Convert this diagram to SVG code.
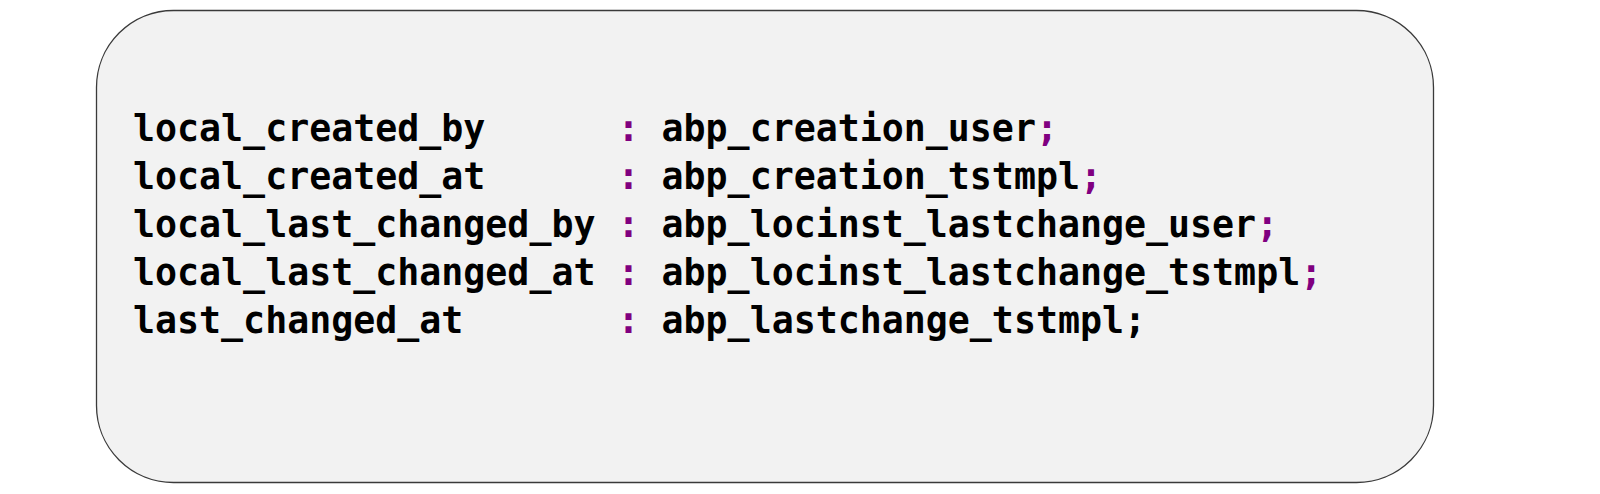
<svg xmlns="http://www.w3.org/2000/svg" width="1600" height="494" viewBox="0 0 1600 494">
<style>
.box{fill:#F2F2F2;stroke:#3A3A3A;stroke-width:1.3}
.code{font-family:"DejaVu Sans Mono","Liberation Mono",monospace;font-weight:bold;font-size:36.6px;fill:#000000;white-space:pre}
.p{fill:#800080}
</style>
<rect width="1600" height="494" fill="#FFFFFF"/>
<g id="panel">
<rect class="box" x="96.5" y="10.5" width="1337" height="472" rx="77" ry="77"/>
</g>
<g id="code">
<text class="code" x="133" y="141" xml:space="preserve">local_created_by      <tspan class="p">:</tspan> abp_creation_user<tspan class="p">;</tspan></text>
<text class="code" x="133" y="189" xml:space="preserve">local_created_at      <tspan class="p">:</tspan> abp_creation_tstmpl<tspan class="p">;</tspan></text>
<text class="code" x="133" y="237" xml:space="preserve">local_last_changed_by <tspan class="p">:</tspan> abp_locinst_lastchange_user<tspan class="p">;</tspan></text>
<text class="code" x="133" y="285" xml:space="preserve">local_last_changed_at <tspan class="p">:</tspan> abp_locinst_lastchange_tstmpl<tspan class="p">;</tspan></text>
<text class="code" x="133" y="333" xml:space="preserve">last_changed_at       <tspan class="p">:</tspan> abp_lastchange_tstmpl;</text>
</g>
</svg>
